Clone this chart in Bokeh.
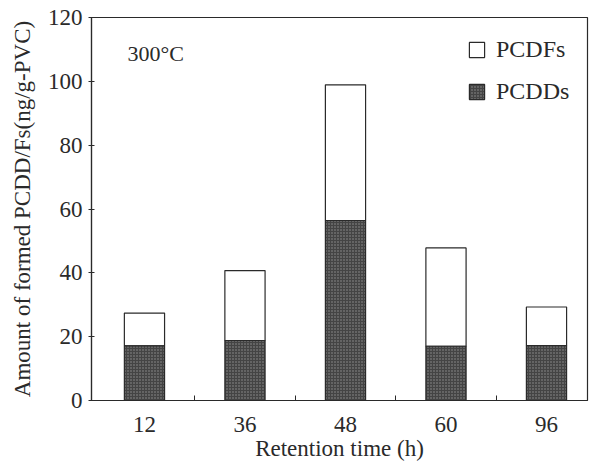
from bokeh.plotting import figure
from bokeh.models import ColumnDataSource, FixedTicker, Range1d, Legend, LegendItem, Label
from bokeh.embed import file_html
from bokeh.resources import INLINE

# ---- data ----
times = ["12", "36", "48", "60", "96"]          # retention time (h)
pcdds = [17.1, 18.8, 56.4, 17.0, 17.2]          # ng/g-PVC
pcdfs = [10.3, 21.9, 42.5, 30.8, 12.1]          # ng/g-PVC (stacked on PCDDs)
y_ticks = [0, 20, 40, 60, 80, 100, 120]

pos = list(range(1, len(times) + 1))
totals = [a + b for a, b in zip(pcdds, pcdfs)]
src = ColumnDataSource(dict(x=pos, pcdd=pcdds, total=totals))

FONT = "Liberation Serif"
INK = "#2a2a2a"

p = figure(width=593, height=473, output_backend="svg", toolbar_location=None,
           x_range=Range1d(0.473, 5.408), y_range=Range1d(0, 120),
           min_border_left=91, min_border_right=6, min_border_top=17,
           min_border_bottom=73)

p.xgrid.grid_line_color = None
p.ygrid.grid_line_color = None
p.outline_line_color = INK
p.outline_line_width = 1.2
p.background_fill_color = "white"

r_f = p.vbar(x="x", width=0.4, bottom="pcdd", top="total", source=src,
             fill_color="white", line_color=INK, line_width=1.2)
r_d = p.vbar(x="x", width=0.4, bottom=0, top="pcdd", source=src,
             fill_color="#444444", hatch_pattern="dot", hatch_color="#939393",
             hatch_scale=3, hatch_weight=1, line_color=INK, line_width=1.2)

# x axis
xa = p.xaxis[0]
xa.ticker = FixedTicker(ticks=pos, minor_ticks=[1.5, 2.5, 3.5, 4.5])
xa.major_label_overrides = {k: t for k, t in zip(pos, times)}
xa.major_tick_line_color = None
xa.minor_tick_in = 5
xa.minor_tick_out = 0
xa.minor_tick_line_color = INK
xa.axis_line_color = INK
xa.axis_line_width = 1.2
xa.major_label_text_font = FONT
xa.major_label_text_font_size = "23px"
xa.major_label_text_color = INK
xa.major_label_standoff = 10
xa.axis_label = "Retention time (h)"
xa.axis_label_text_font = FONT
xa.axis_label_text_font_style = "normal"
xa.axis_label_text_font_size = "23px"
xa.axis_label_text_color = INK
xa.axis_label_standoff = 1

# y axis
ya = p.yaxis[0]
ya.ticker = FixedTicker(ticks=y_ticks)
ya.minor_tick_line_color = None
ya.major_tick_in = 3
ya.major_tick_out = 3
ya.major_tick_line_color = INK
ya.axis_line_color = INK
ya.axis_line_width = 1.2
ya.major_label_text_font = FONT
ya.major_label_text_font_size = "23px"
ya.major_label_text_color = INK
ya.major_label_standoff = 6
ya.axis_label = "Amount of formed PCDD/Fs(ng/g-PVC)"
ya.axis_label_text_font = FONT
ya.axis_label_text_font_style = "normal"
ya.axis_label_text_font_size = "23px"
ya.axis_label_text_color = INK
ya.axis_label_standoff = 10

legend = Legend(items=[LegendItem(label="PCDFs", renderers=[r_f]),
                       LegendItem(label="PCDDs", renderers=[r_d])],
                location=(376, 295), padding=0, margin=0, spacing=15,
                glyph_width=19, glyph_height=19, label_standoff=10,
                label_text_font=FONT, label_text_font_size="24px",
                label_text_color=INK, border_line_color=None,
                background_fill_alpha=0)
p.add_layout(legend)

p.add_layout(Label(x=0.83, y=108.6, text="300°C", text_font=FONT,
                   text_font_size="22px", text_color=INK,
                   text_baseline="middle", text_align="left"))

open("out.html", "w").write(file_html(p, INLINE))
